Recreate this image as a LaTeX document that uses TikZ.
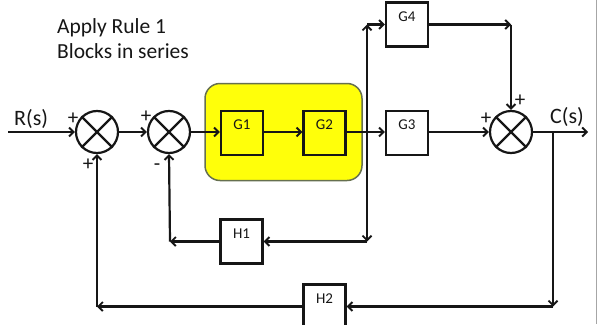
\documentclass[tikz,border=0pt]{standalone}
\usepackage{fontspec}
\setmainfont{Carlito}
\usetikzlibrary{arrows.meta}
\definecolor{ink}{HTML}{161616}
\definecolor{hl}{HTML}{FFFF0A}
\definecolor{hlborder}{HTML}{66704F}
\tikzset{
  wire/.style={draw=ink, line width=2.2pt},
  arr/.style={wire, -{Straight Barb[length=4.5pt,width=9pt,line width=1.9pt]}},
  blk/.style={draw=ink, line width=2.2pt, minimum width=42pt, minimum height=44pt, inner sep=0pt},
  blklabel/.style={font=\fontsize{15}{15}\selectfont, text=ink},
  summer/.style={draw=ink, line width=2.2pt, circle, minimum size=42pt, inner sep=0pt},
  sign/.style={font=\fontsize{21}{21}\selectfont, text=ink, inner sep=0pt},
  sig/.style={font=\fontsize{22}{22}\selectfont, text=ink, inner sep=0pt, anchor=base west},
  title/.style={font=\fontsize{21.5}{21.5}\selectfont, text=ink, inner sep=0pt, anchor=base west},
}
\begin{document}
\begin{tikzpicture}[x=1pt,y=-1pt]
\useasboundingbox (0,0) rectangle (601,324);
\clip (0,0) rectangle (601,324);
% right edge line
\draw[gray!70, line width=1pt] (596,0) -- (596,324);
% title
\node[title] (t1) at (57,33) {Apply Rule 1};
\node[title] (t2) at (57,58) {Blocks in series};
% highlight
\node[draw=hlborder, fill=hl, line width=1.5pt, rounded corners=15pt, minimum width=157pt, minimum height=97pt] (hlbox) at (283.5,132) {};
% summers
\foreach \n/\x in {s1/97, s2/169, s3/511} {
  \node[summer] (\n) at (\x,132) {};
  \draw[wire] (\n.north west) -- (\n.south east);
  \draw[wire] (\n.north east) -- (\n.south west);
}
% blocks
\node[blk] (G1) at (242,133) {};
\node[blk] (G2) at (324.5,133) {};
\node[blk] (G3) at (407,133) {};
\node[blk] (G4) at (407,24.5) {};
\node[blk] (H1) at (241.5,241.5) {};
\node[blk] (H2) at (324.5,306.5) {};
\foreach \b/\t in {G1/G1, G2/G2, G3/G3, G4/G4, H1/H1, H2/H2} {
  \node[blklabel, anchor=center] at ([yshift=8pt]\b.center) {\t};
}
% signals
\node[sig] (R) at (14,125) {R(s)};
\node[sig] (C) at (550,123) {C(s)};
% signs
\node[sign] at (73,119) {+};
\node[sign] at (88,165) {+};
\node[sign] at (146,117) {+};
\node[sign] at (157,167) {-};
\node[sign] at (486,119) {+};
\node[sign] at (520,101) {+};
% coordinates
\coordinate (in) at (8,132);
\coordinate (out) at (588,132);
\coordinate (b1) at (367,132);
\coordinate (b1u) at (367,24.5);
\coordinate (b1d) at (367,241.5);
\coordinate (g4c) at (511,24.5);
\coordinate (b2) at (553,132);
\coordinate (b2d) at (553,306.5);
\coordinate (h1c) at (170,241.5);
\coordinate (h2c) at (97,306.5);
% forward path
\draw[arr] (in) -- (s1.west);
\draw[arr] (s1.east) -- (s2.west);
\draw[arr] (s2.east) -- (G1.west |- s2.east);
\draw[arr] (G1.east |- s2.east) -- (G2.west |- s2.east);
\draw[arr] (G2.east |- s2.east) -- (G3.west |- s2.east);
\draw[arr] (G3.east |- s2.east) -- (s3.west);
\draw[arr] (s3.east) -- (out);
% G4 branch
\draw[arr] (b1) -- (b1u);
\draw[arr] (b1u) -- (G4.west);
\draw[arr] (G4.east) -- (g4c);
\draw[arr] (g4c) -- (s3.north);
% H1 loop
\draw[arr] (b1) -- (b1d);
\draw[arr] (b1d) -- (H1.east);
\draw[arr] (H1.west) -- (h1c);
\draw[arr] (h1c) -- (s2.south);
% H2 loop
\draw[arr] (b2) -- (b2d);
\draw[arr] (b2d) -- (H2.east);
\draw[arr] (H2.west) -- (h2c);
\draw[arr] (h2c) -- (s1.south);
\end{tikzpicture}
\end{document}
